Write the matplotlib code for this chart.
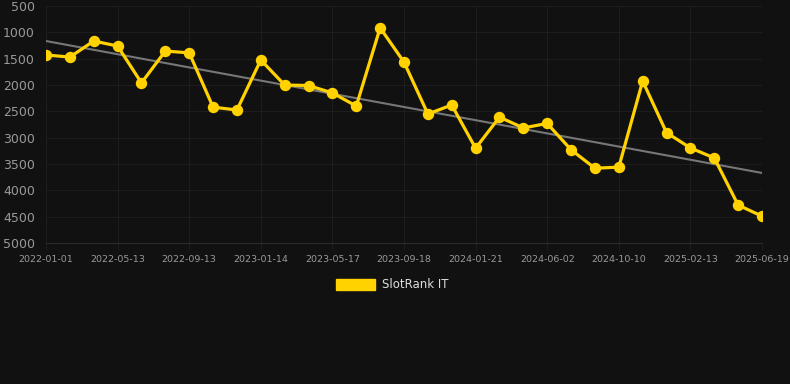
import matplotlib

matplotlib.use("Agg")
import matplotlib.pyplot as plt
import numpy as np

# rank values (lower is better, axis inverted)
ranks = [1430, 1470, 1165, 1260, 1960, 1355, 1390, 2420, 2475, 1525,
         2000, 2010, 2150, 2400, 915, 1565, 2550, 2380, 3200, 2610,
         2815, 2730, 3230, 3580, 3560, 1925, 2905, 3195, 3385, 4280, 4490]
tick_labels = ["2022-01-01", "2022-05-13", "2022-09-13", "2023-01-14",
               "2023-05-17", "2023-09-18", "2024-01-21", "2024-06-02",
               "2024-10-10", "2025-02-13", "2025-06-19"]
trend_ends = [1165, 3670]
y_ticks = [500, 1000, 1500, 2000, 2500, 3000, 3500, 4000, 4500, 5000]

BG = "#111111"
GOLD = "#FFD200"

fig = plt.figure(figsize=(7.9, 3.84), dpi=100, facecolor=BG)
ax = fig.add_axes([46 / 790, 1 - 243 / 384, (762 - 46) / 790, (243 - 6) / 384])
ax.set_facecolor(BG)

x = np.arange(len(ranks))
ax.plot([x[0], x[-1]], trend_ends, color="#777777", lw=1.5, zorder=2)
ax.plot(x, ranks, color=GOLD, lw=2.3, marker="o", ms=7.2, zorder=3)

ax.set_xlim(x[0], x[-1])
ax.set_ylim(5000, 500)
ax.set_yticks(y_ticks)
ax.set_yticklabels([str(v) for v in y_ticks])
ax.set_xticks(x[::3])
ax.set_xticklabels(tick_labels)

ax.grid(True, color="#1d1d1d", lw=0.8)
ax.set_axisbelow(True)
for s in ["top", "right", "left"]:
    ax.spines[s].set_visible(False)
ax.spines["bottom"].set_color("#2a2a2a")
ax.tick_params(axis="y", length=0, pad=8, labelsize=9, labelcolor="#999999")
ax.tick_params(axis="x", length=5, color="#1d1d1d", pad=4, labelsize=6.8,
               labelcolor="#999999")

# legend
fig.patches.append(plt.Rectangle((336 / 790, 1 - 290 / 384), 39 / 790, 11 / 384,
                                 transform=fig.transFigure, color=GOLD))
fig.text(382 / 790, 1 - 285 / 384, "SlotRank IT", color="#dddddd",
         fontsize=8.5, va="center", ha="left")

fig.savefig("out.png", facecolor=BG)
